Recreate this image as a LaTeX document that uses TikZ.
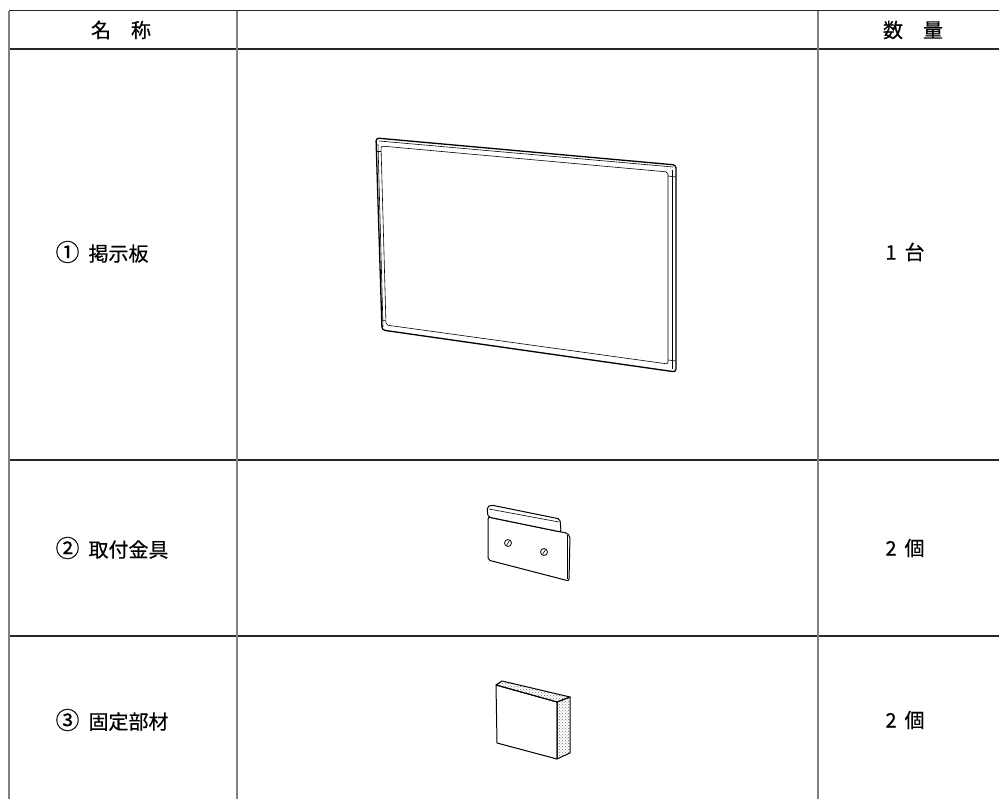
\documentclass[tikz,border=0pt]{standalone}
\usepackage{fontspec}
\setmainfont{Noto Sans CJK JP}[FakeBold=0.5]
\usetikzlibrary{patterns}

\begin{document}
\begin{tikzpicture}[x=1pt, y={(0pt,-1pt)},
  celltext/.style={font=\fontsize{20}{22}\selectfont},
  nametext/.style={celltext, anchor=west},
  vrule/.style={draw=black!50, line width=1.5pt},
  hrule/.style={draw=black!85, line width=1.5pt},
  partline/.style={line width=1pt, line join=round},
  thinline/.style={line width=0.6pt, line join=round},
  dotface/.style={pattern=crosshatch dots, pattern color=black!55}]
\useasboundingbox (0,0) rectangle (999,799);
\draw[hrule, line width=1pt] (9,11) -- (999,11);
\draw[hrule, line width=2pt] (9,49) -- (999,49);
\draw[hrule] (9,460) -- (999,460);
\draw[hrule] (9,636) -- (999,636);
\draw[vrule] (9,11) -- (9,799);
\draw[vrule] (237,11) -- (237,799);
\draw[vrule] (818,11) -- (818,799);
\node[celltext] at (121,30) (namehead) {名　称};
\node[celltext] at (913,30) (qtyhead) {数　量};
\node[nametext] at (52,252) (board) {{\fontsize{24}{22}\selectfont ①}\hspace{9pt}掲示板};
\node[nametext] at (52,548) (bracket) {{\fontsize{24}{22}\selectfont ②}\hspace{9pt}取付金具};
\node[nametext] at (52,720) (block) {{\fontsize{24}{22}\selectfont ③}\hspace{9pt}固定部材};
\node[celltext] at (905,252) (boardqty) {1\hspace{8pt}台};
\node[celltext] at (905,548) (bracketqty) {2\hspace{8pt}個};
\node[celltext] at (905,720) (blockqty) {2\hspace{8pt}個};
\draw[partline, line width=1.3pt, rounded corners=3] (376,138) -- (676,165) -- (676,372) -- (382,330) -- cycle;
\draw[thinline] (379,141) -- (673,167);
\draw[thinline] (672,170) -- (672,369);
\draw[thinline] (378,144) -- (383,327);
\draw[thinline, rounded corners=2] (381,146) -- (668,172) -- (668,364) -- (386,325) -- cycle;
\draw[thinline] (668,176) -- (676,177);
\draw[thinline] (668,360) -- (676,361);
\draw[thinline] (381,151) -- (377,151);
\draw[thinline] (386,321) -- (382,320);
\draw[partline, rounded corners=2, fill=white] (488,517) -- (488,560) -- (569,581) -- (570,536) -- (567,533) -- (561,532) -- cycle;
\draw[thinline] (567,535) -- (567,579);
\draw[partline, rounded corners=2, fill=white] (488,517) -- (487,507) -- (491,505) -- (560,519) -- (561,532) -- cycle;
\draw[thinline] (489,509) -- (559,522);
\draw[partline, line width=0.8pt] (508,543) circle (3.5);
\draw[thinline] (506.5,545.5) -- (509.5,540.5);
\draw[partline, line width=0.8pt] (544,552) circle (3.5);
\draw[thinline] (542.5,554.5) -- (545.5,549.5);
\draw[partline, fill=white] (496,685) -- (557,702) -- (557,759) -- (497,743) -- cycle;
\draw[partline, dotface] (496,685) -- (502,681) -- (570,697) -- (557,702) -- cycle;
\draw[partline, dotface] (557,702) -- (570,697) -- (570,753) -- (557,759) -- cycle;
\end{tikzpicture}
\end{document}
